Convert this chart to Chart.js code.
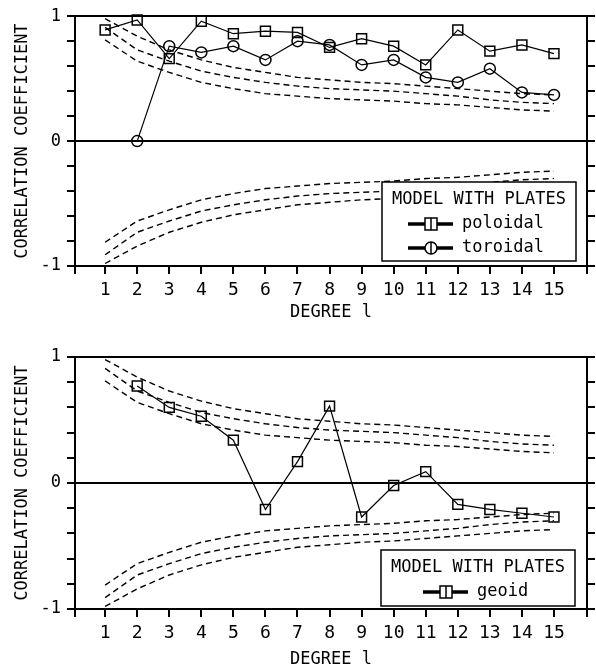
<!DOCTYPE html>
<html>
<head>
<meta charset="utf-8">
<script src="https://cdn.jsdelivr.net/npm/chart.js@4.4.0/dist/chart.umd.min.js"></script>
<style>
  html, body { margin: 0; padding: 0; background: #fff; }
  #contenedor { position: relative; width: 596px; height: 671px; }
  canvas { position: absolute; left: 0; }
</style>
</head>
<body>
<div id="contenedor">
  <canvas id="grafico1" width="596" height="335" style="top:0px"></canvas>
  <canvas id="grafico2" width="596" height="336" style="top:335px"></canvas>
</div>
<script>
// Grados armónicos y coeficientes de correlación
const grados = [1, 2, 3, 4, 5, 6, 7, 8, 9, 10, 11, 12, 13, 14, 15];
const poloidal = [0.89, 0.97, 0.66, 0.96, 0.86, 0.88, 0.87, 0.75, 0.82, 0.76, 0.61, 0.89, 0.72, 0.77, 0.70];
const toroidal = [null, 0.00, 0.76, 0.71, 0.76, 0.65, 0.80, 0.77, 0.61, 0.65, 0.51, 0.47, 0.58, 0.39, 0.37];
const geoide = [null, 0.77, 0.60, 0.53, 0.34, -0.21, 0.17, 0.61, -0.27, -0.02, 0.09, -0.17, -0.21, -0.24, -0.27];

// Niveles de significancia (curvas discontinuas, simétricas respecto a cero)
const nivelInterior = [0.81, 0.64, 0.55, 0.47, 0.42, 0.38, 0.36, 0.34, 0.33, 0.32, 0.30, 0.29, 0.27, 0.25, 0.24];
const nivelMedio = [0.91, 0.73, 0.64, 0.56, 0.51, 0.47, 0.44, 0.42, 0.41, 0.40, 0.38, 0.36, 0.33, 0.31, 0.30];
const nivelExterior = [0.98, 0.84, 0.73, 0.65, 0.59, 0.55, 0.51, 0.49, 0.47, 0.46, 0.44, 0.42, 0.40, 0.38, 0.37];

const FUENTE = '"DejaVu Sans Mono", "Liberation Mono", monospace';

const puntos = (valores) => grados
    .map((g, i) => ({ x: g, y: valores[i] }))
    .filter(p => p.y !== null);

const serieDatos = (etiqueta, valores, estilo, radio) => ({
    label: etiqueta,
    data: puntos(valores),
    borderColor: '#000',
    borderWidth: 1.2,
    pointStyle: estilo,
    pointRadius: radio,
    pointBorderColor: '#000',
    pointBorderWidth: 1.5,
    pointBackgroundColor: 'rgba(255,255,255,0)',
    clip: false
});

const serieNivel = (valores) => ({
    label: '',
    data: puntos(valores),
    borderColor: '#000',
    borderWidth: 1.4,
    borderDash: [6, 4],
    pointRadius: 0,
    clip: false
});

const curvasNivel = () => [
    serieNivel(nivelInterior), serieNivel(nivelMedio), serieNivel(nivelExterior),
    serieNivel(nivelInterior.map(v => -v)), serieNivel(nivelMedio.map(v => -v)), serieNivel(nivelExterior.map(v => -v))
];

// Recuadro "MODEL WITH PLATES" dentro del área del gráfico
const leyendaPlacas = {
    id: 'leyendaPlacas',
    afterDraw(chart, args, opts) {
        const { ctx, chartArea } = chart;
        const x0 = chartArea.right - opts.right - opts.ancho;
        const y0 = chartArea.bottom - opts.abajo - opts.alto;
        ctx.save();
        ctx.fillStyle = '#fff';
        ctx.fillRect(x0, y0, opts.ancho, opts.alto);
        ctx.strokeStyle = '#000';
        ctx.lineWidth = 1.5;
        ctx.strokeRect(x0, y0, opts.ancho, opts.alto);
        ctx.fillStyle = '#000';
        ctx.font = '17px ' + FUENTE;
        ctx.textAlign = 'center';
        ctx.textBaseline = 'middle';
        ctx.fillText('MODEL WITH PLATES', x0 + opts.ancho / 2, y0 + 18);
        opts.items.forEach((it, i) => {
            const y = y0 + 42 + i * 24;
            const lx = x0 + opts.inicioLinea;
            ctx.lineWidth = 3.5;
            ctx.beginPath();
            ctx.moveTo(lx, y);
            ctx.lineTo(lx + 45, y);
            ctx.stroke();
            const cx = lx + 23;
            ctx.lineWidth = 1.5;
            ctx.fillStyle = '#fff';
            ctx.beginPath();
            if (it.estilo === 'rect') {
                ctx.rect(cx - 6, y - 6, 12, 12);
            } else {
                ctx.arc(cx, y, 6, 0, Math.PI * 2);
            }
            ctx.fill();
            ctx.stroke();
            ctx.beginPath();
            ctx.moveTo(cx, y - 6);
            ctx.lineTo(cx, y + 6);
            ctx.stroke();
            ctx.fillStyle = '#000';
            ctx.textAlign = 'left';
            ctx.fillText(it.texto, lx + 54, y);
        });
        ctx.restore();
    }
};

const crearPanel = (elemento, series, geom, leyenda) => new Chart(elemento.getContext('2d'), {
    type: 'line',
    data: { datasets: series.concat(curvasNivel()) },
    plugins: [leyendaPlacas],
    options: {
        responsive: false,
        animation: false,
        layout: { padding: { top: geom.arriba, left: 0, right: 0, bottom: 0 } },
        plugins: {
            legend: { display: false },
            tooltip: { enabled: false },
            leyendaPlacas: leyenda
        },
        scales: {
            x: {
                type: 'linear',
                min: 0.06,
                max: 16.03,
                afterBuildTicks: (s) => {
                    s.ticks = [{ value: 0.06 }].concat(grados.map(g => ({ value: g })), [{ value: 16.03 }]);
                },
                afterFit: (s) => { s.height = geom.altoX; },
                ticks: {
                    autoSkip: false,
                    maxRotation: 0,
                    padding: 6,
                    color: '#000',
                    font: { family: FUENTE, size: 18 },
                    callback: (v) => Number.isInteger(v) ? String(v) : ''
                },
                grid: { drawOnChartArea: false, tickLength: 8, color: '#000', lineWidth: 2 },
                border: { display: true, color: '#000', width: 2 },
                title: {
                    display: true,
                    text: 'DEGREE l',
                    color: '#000',
                    font: { family: FUENTE, size: 17 },
                    padding: { top: 0, bottom: geom.tituloX }
                }
            },
            y: {
                min: -1,
                max: 1,
                afterFit: (s) => { s.width = 75; },
                ticks: {
                    stepSize: 0.2,
                    autoSkip: false,
                    padding: 6,
                    color: '#000',
                    font: { family: FUENTE, size: 17 },
                    callback: (v) => Math.abs(v - Math.round(v)) < 1e-6 ? String(Math.round(v)) : ''
                },
                grid: {
                    tickLength: 8,
                    lineWidth: 2,
                    tickColor: '#000',
                    color: (c) => (c.tick && (Math.abs(c.tick.value) < 1e-6 || Math.abs(c.tick.value - 1) < 1e-6)) ? '#000' : 'rgba(0,0,0,0)'
                },
                border: { display: true, color: '#000', width: 2 },
                title: {
                    display: true,
                    text: 'CORRELATION COEFFICIENT',
                    color: '#000',
                    font: { family: FUENTE, size: 17 },
                    padding: { top: 12, bottom: 0 }
                }
            },
            y2: {
                position: 'right',
                min: -1,
                max: 1,
                afterFit: (s) => { s.width = 9; },
                ticks: { display: false, stepSize: 0.2 },
                grid: { drawOnChartArea: false, tickLength: 8, color: '#000', lineWidth: 2 },
                border: { display: true, color: '#000', width: 2 }
            }
        }
    }
});

document.addEventListener('DOMContentLoaded', function() {
    const grafico1Element = document.getElementById('grafico1');
    const grafico2Element = document.getElementById('grafico2');

    // Panel superior: campos poloidal y toroidal
    window.graficaPoloidalToroidal = crearPanel(grafico1Element, [
        serieDatos('poloidal', poloidal, 'rect', 7),
        serieDatos('toroidal', toroidal, 'circle', 5.5)
    ], { arriba: 13, altoX: 69, tituloX: 12 }, {
        ancho: 194, alto: 79, right: 11, abajo: 5, inicioLinea: 26,
        items: [{ texto: 'poloidal', estilo: 'rect' }, { texto: 'toroidal', estilo: 'circle' }]
    });

    // Panel inferior: geoide
    window.graficaGeoide = crearPanel(grafico2Element, [
        serieDatos('geoid', geoide, 'rect', 7)
    ], { arriba: 22, altoX: 62, tituloX: 1 }, {
        ancho: 194, alto: 56, right: 12, abajo: 3, inicioLinea: 42,
        items: [{ texto: 'geoid', estilo: 'rect' }]
    });
});
</script>
</body>
</html>
